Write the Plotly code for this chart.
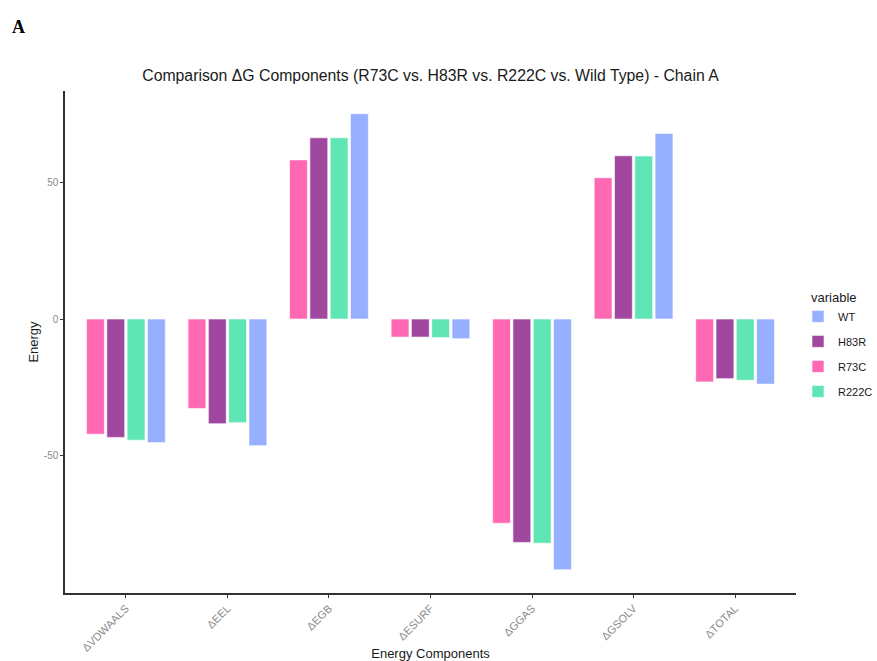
import plotly.graph_objects as go

categories = ["ΔVDWAALS", "ΔEEL", "ΔEGB", "ΔESURF", "ΔGGAS", "ΔGSOLV", "ΔTOTAL"]
r73c = [-42.1, -32.7, 58.2, -6.6, -74.7, 51.7, -23.0]
h83r = [-43.3, -38.3, 66.3, -6.6, -81.7, 59.7, -21.8]
r222c = [-44.3, -37.9, 66.3, -6.8, -82.0, 59.6, -22.4]
wt = [-45.2, -46.3, 75.1, -7.2, -91.7, 67.9, -23.8]

series = [
    ("R73C", r73c, "#FF69B4", 3),
    ("H83R", h83r, "#A0479F", 2),
    ("R222C", r222c, "#60E6B4", 4),
    ("WT", wt, "#96B0FF", 1),
]

FONT = "Liberation Sans, Arial, sans-serif"

fig = go.Figure()
for name, vals, col, rank in series:
    fig.add_trace(go.Bar(
        x=categories, y=vals, name=name,
        marker=dict(color=col, line=dict(color="white", width=0.6)),
        legendrank=rank, legendgroup=name,
    ))

fig.update_layout(
    width=877, height=661,
    paper_bgcolor="white", plot_bgcolor="white",
    margin=dict(l=65, r=81, t=91, b=68, autoexpand=False),
    barmode="group", bargap=0.2, bargroupgap=0.12,
    font=dict(family=FONT, color="#333333"),
    title=dict(text="Comparison ΔG Components (R73C vs. H83R vs. R222C vs. Wild Type) - Chain A",
               x=0.5, xref="paper", xanchor="center", y=1 - 75 / 661, yanchor="middle",
               font=dict(size=15.8, color="#1a1a1a", family=FONT)),
    legend=dict(
        title=dict(text="variable", font=dict(size=13, color="#1a1a1a")),
        font=dict(size=11, color="#1a1a1a"),
        xref="container", yref="container",
        x=809 / 877, xanchor="left", y=1 - 285 / 661, yanchor="top",
        tracegroupgap=6, itemwidth=30, indentation=-11, bgcolor="rgba(0,0,0,0)",
    ),
    showlegend=True,
)

fig.update_xaxes(
    range=[-0.6, 6.6], automargin=False,
    showline=True, linecolor="#333333", linewidth=1.5,
    ticks="outside", ticklen=3, tickcolor="#333333", tickwidth=1,
    tickangle=-45, tickfont=dict(size=11, color="#8a8a8a"),
    showgrid=False, zeroline=False,
    title=dict(text="Energy Components", font=dict(size=13, color="#1a1a1a"), standoff=4),
)
fig.update_yaxes(
    range=[-100.2, 83.4], automargin=False,
    tickvals=[-50, 0, 50], ticktext=["-50", "0", "50"],
    showline=True, linecolor="#333333", linewidth=1.5,
    ticks="outside", ticklen=3, tickcolor="#333333", tickwidth=1,
    tickfont=dict(size=10, color="#8a8a8a"),
    showgrid=False, zeroline=False,
    title=dict(text="Energy", font=dict(size=13, color="#1a1a1a"), standoff=2),
)

fig.add_annotation(
    text="<b>A</b>", xref="paper", yref="paper",
    x=-55 / 731, y=1 + (91 - 27) / 502, xanchor="left", yanchor="middle",
    showarrow=False, font=dict(family="Liberation Serif, DejaVu Serif, serif", size=18, color="black"),
)

fig.write_html("out.html", config={"displayModeBar": False},
               post_script="document.body.style.margin='0';document.body.style.overflow='hidden';")
